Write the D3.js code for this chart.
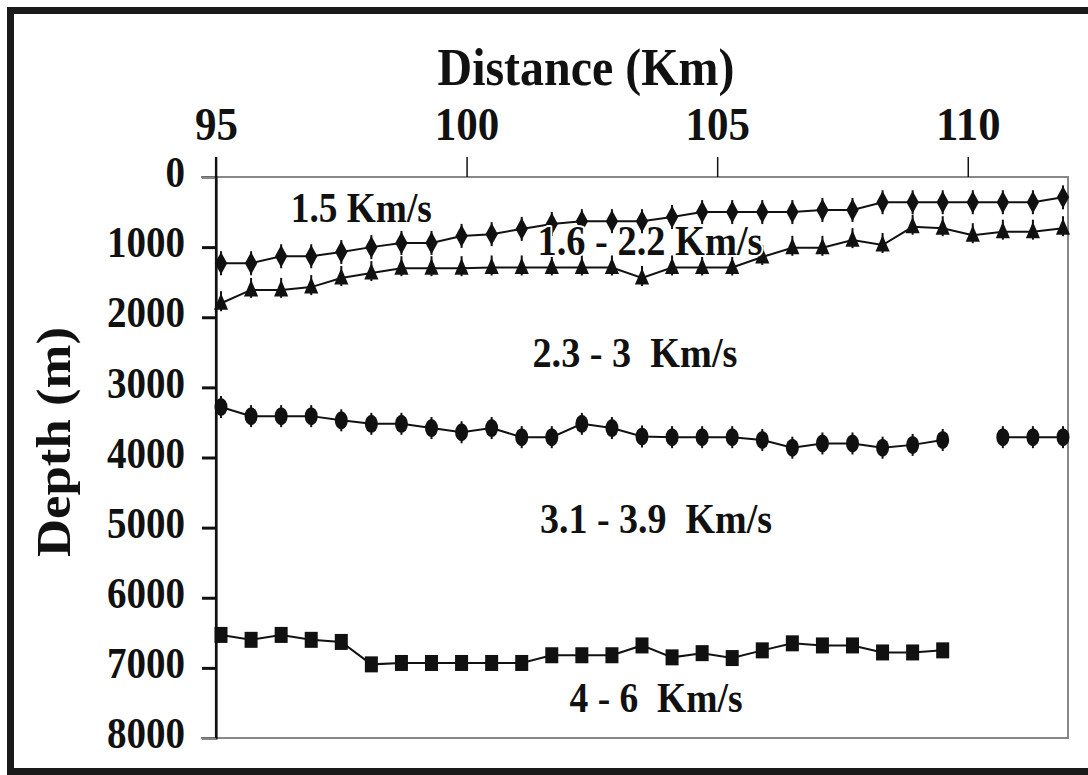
<!DOCTYPE html>
<html>
<head>
<meta charset="utf-8">
<script src="https://cdn.jsdelivr.net/npm/d3@7"></script>
<style>
  html, body { margin: 0; padding: 0; background: #fff; }
  svg { display: block; }
  text { font-family: "Liberation Serif", "Times New Roman", serif; font-weight: bold; fill: #111; white-space: pre; }
</style>
</head>
<body>
<svg id="chart" width="1088" height="775"></svg>
<script>
// ---- data ----
const distance = [95.1, 95.7, 96.3, 96.9, 97.5, 98.1, 98.7, 99.3, 99.9, 100.5,
                  101.1, 101.7, 102.3, 102.9, 103.5, 104.1, 104.7, 105.3, 105.9, 106.5,
                  107.1, 107.7, 108.3, 108.9, 109.5, 110.1, 110.7, 111.3, 111.9];
const base15 = [1230, 1230, 1130, 1130, 1070, 1000, 940, 940, 840, 815,
                740, 670, 630, 630, 630, 570, 500, 500, 500, 500,
                470, 470, 360, 360, 360, 360, 360, 360, 290];
const base16_22 = [1800, 1610, 1610, 1570, 1440, 1370, 1300, 1300, 1300, 1290,
                   1290, 1290, 1290, 1290, 1440, 1290, 1290, 1290, 1140, 1010,
                   1010, 900, 970, 710, 730, 830, 780, 780, 730];
const base23_3 = [3280, 3410, 3410, 3410, 3470, 3520, 3520, 3580, 3640, 3580,
                  3710, 3710, 3520, 3580, 3700, 3710, 3710, 3710, 3750, 3860,
                  3800, 3800, 3860, 3820, 3750, null, 3710, 3710, 3710];
const base31_39 = [6530, 6600, 6530, 6600, 6630, 6950, 6930, 6930, 6930, 6930,
                   6930, 6820, 6820, 6820, 6680, 6850, 6790, 6860, 6750, 6650,
                   6680, 6680, 6780, 6780, 6750, null, null, null, null];
const xTicks = [95, 100, 105, 110];
const yTicks = [0, 1000, 2000, 3000, 4000, 5000, 6000, 7000, 8000];
const layerLabels = ["1.5 Km/s", "1.6 - 2.2 Km/s", "2.3 - 3  Km/s", "3.1 - 3.9  Km/s", "4 - 6  Km/s"];
const labelDist = [97.9, 103.66, 103.36, 103.78, 103.78];  // label centre, km
const labelDepth = [642, 1113, 2710, 5078, 7632];          // label baseline, m
const labelWidths = [141, 225, 205, 232, 173];

// ---- layout ----
const svg = d3.select("#chart");
const pLeft = 216, pRight = 1068, pTop = 177, pBottom = 738;
const x = d3.scaleLinear().domain([95, 112]).range([pLeft, pRight]);
const y = d3.scaleLinear().domain([0, 8000]).range([pTop, pBottom]);

// outer frame
svg.append("rect").attr("x", 10.5).attr("y", 10.5).attr("width", 1100).attr("height", 761)
  .attr("fill", "none").attr("stroke", "#1a1a1a").attr("stroke-width", 7);

// plot border (grey)
svg.append("path")
  .attr("d", `M${pLeft - 15},${pTop}H${pRight}V${pBottom}H${pLeft - 15}`)
  .attr("fill", "none").attr("stroke", "#888").attr("stroke-width", 2);

// x axis (top)
const gx = svg.append("g").attr("transform", `translate(0,${pTop})`)
  .call(d3.axisTop(x).tickValues(xTicks).tickSize(20).tickPadding(17).tickFormat(d3.format("d")));
gx.select(".domain").remove();
gx.selectAll(".tick line").attr("stroke", "#111").attr("stroke-width", 1.5);
gx.selectAll(".tick text").attr("font-size", 46)
  .attr("textLength", d => String(d).length * 21.5).attr("lengthAdjust", "spacingAndGlyphs")
  .attr("fill", "#111");

// y axis (left)
const gy = svg.append("g").attr("transform", `translate(${pLeft},0)`)
  .call(d3.axisLeft(y).tickValues(yTicks).tickSize(14).tickPadding(17).tickFormat(d3.format("d")));
gy.select(".domain").attr("stroke", "#111").attr("stroke-width", 2.2);
gy.selectAll(".tick line").attr("stroke", "#111").attr("stroke-width", 3);
gy.selectAll(".tick text").attr("font-size", 44).attr("dy", "0.22em")
  .attr("textLength", d => String(d).length * 19.5).attr("lengthAdjust", "spacingAndGlyphs")
  .attr("fill", "#111");
gy.selectAll(".tick").filter(d => d === 0 || d === 8000).select("line").attr("stroke", "#888").attr("stroke-width", 2);
// left axis extends up through the 95 tick
svg.append("line").attr("x1", pLeft).attr("x2", pLeft).attr("y1", pTop - 20).attr("y2", pBottom)
  .attr("stroke", "#111").attr("stroke-width", 2.2);

// titles
svg.append("text").attr("x", 586).attr("y", 85).attr("text-anchor", "middle")
  .attr("font-size", 52).attr("textLength", 297).attr("lengthAdjust", "spacingAndGlyphs")
  .text("Distance (Km)");
svg.append("text").attr("transform", "translate(70,442) rotate(-90)").attr("text-anchor", "middle")
  .attr("font-size", 48).attr("textLength", 230).attr("lengthAdjust", "spacingAndGlyphs")
  .text("Depth (m)");

// series
const series = [
  { vals: base15, shape: "diamond" },
  { vals: base16_22, shape: "triangle" },
  { vals: base23_3, shape: "ellipse" },
  { vals: base31_39, shape: "square" }
];
const line = d3.line().defined(d => d[1] != null).x(d => x(d[0])).y(d => y(d[1]));
const diamond = d3.symbol(d3.symbolDiamond, 120)();
const triangle = d3.symbol(d3.symbolTriangle, 120)();

series.forEach(s => {
  const pts = distance.map((d, i) => [d, s.vals[i]]);
  svg.append("path").datum(pts).attr("d", line)
    .attr("fill", "none").attr("stroke", "#111").attr("stroke-width", 2);
  const g = svg.append("g").selectAll("g").data(pts.filter(p => p[1] != null)).join("g")
    .attr("transform", p => `translate(${x(p[0])},${y(p[1])})`);
  if (s.shape === "diamond") {
    g.append("path").attr("d", diamond).attr("transform", "scale(1.05,1.1)").attr("fill", "#111");
    g.append("line").attr("y1", -12).attr("y2", 12).attr("stroke", "#111").attr("stroke-width", 2);
  } else if (s.shape === "triangle") {
    g.append("path").attr("d", triangle).attr("transform", "translate(0,1) scale(0.85,1.15)").attr("fill", "#111");
    g.append("line").attr("y1", -12).attr("y2", 8).attr("stroke", "#111").attr("stroke-width", 2);
  } else if (s.shape === "ellipse") {
    g.append("ellipse").attr("rx", 6.5).attr("ry", 9).attr("fill", "#111");
    g.append("line").attr("y1", -11).attr("y2", 11).attr("stroke", "#111").attr("stroke-width", 2);
  } else {
    g.append("rect").attr("x", -6.5).attr("y", -8).attr("width", 13).attr("height", 16).attr("fill", "#111");
  }
});

// layer labels (white halo like the reference)
svg.append("g").selectAll("text").data(layerLabels).join("text")
  .attr("x", (d, i) => x(labelDist[i])).attr("y", (d, i) => y(labelDepth[i]))
  .attr("text-anchor", "middle").attr("font-size", 42)
  .attr("textLength", (d, i) => labelWidths[i]).attr("lengthAdjust", "spacingAndGlyphs")
  .attr("stroke", "#fff").attr("stroke-width", 4).attr("paint-order", "stroke").attr("stroke-linejoin", "round")
  .text(d => d);
</script>
</body>
</html>
